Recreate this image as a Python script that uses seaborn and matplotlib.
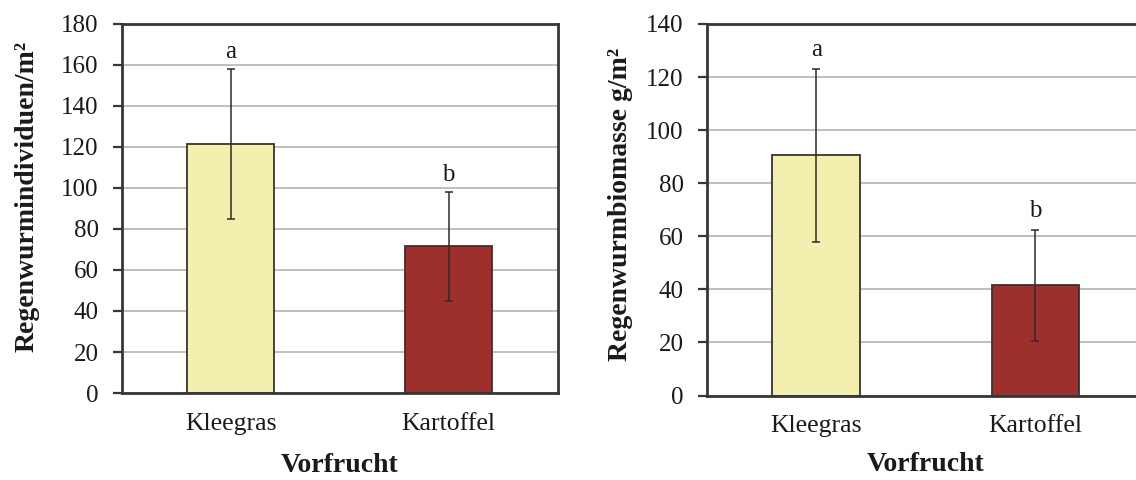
import matplotlib
matplotlib.use("Agg")
import matplotlib.pyplot as plt
import seaborn as sns
import pandas as pd

# Earthworm abundance and biomass by preceding crop
categories = ["Kleegras", "Kartoffel"]
individuals = [121.5, 71.5]
individuals_err = [36.5, 26.5]
biomass = [90.5, 41.5]
biomass_err = [32.5, 21.0]
letters = ["a", "b"]
bar_colors = ["#f3efaf", "#9d2f2c"]

sns.set_theme(style="white")
plt.rcParams["font.family"] = ["Liberation Serif", "DejaVu Serif"]

fig = plt.figure(figsize=(11.36, 4.8), dpi=100)
ax1 = fig.add_axes([0.107, 0.181, 0.384, 0.770])
ax2 = fig.add_axes([0.622, 0.176, 0.386, 0.774])

spine_col = "#3b3535"
grid_col = "#b8aaa3"
edge_col = "#3a3232"


def draw(ax, values, errs, ymax, step, ylabel, label_x, label_y, xlabelpad, show_right):
    df = pd.DataFrame({"Vorfrucht": categories, "value": values})
    sns.barplot(data=df, x="Vorfrucht", y="value", hue="Vorfrucht",
                palette=bar_colors, saturation=1, width=0.4, edgecolor=edge_col,
                linewidth=1.3, errorbar=None, legend=False, ax=ax, zorder=2)
    ax.errorbar(range(len(values)), values, yerr=errs, fmt="none",
                ecolor="#2e2a2a", elinewidth=1.1, capsize=3.2, capthick=1.1, zorder=3)
    for i, (v, e, t) in enumerate(zip(values, errs, letters)):
        ax.text(i, v + e + 3, t, ha="center", va="bottom", fontsize=18, color="#1a1a1a")
    ax.set_xlim(-0.5, 1.5)
    ax.set_ylim(0, ymax)
    ax.set_yticks(range(0, ymax + 1, step))
    ax.yaxis.grid(True, color=grid_col, linewidth=1.1, zorder=0)
    ax.set_axisbelow(True)
    for side in ["left", "bottom", "top"]:
        ax.spines[side].set_visible(True)
        ax.spines[side].set_color(spine_col)
        ax.spines[side].set_linewidth(2.0)
    ax.spines["right"].set_visible(show_right)
    ax.spines["right"].set_color(spine_col)
    ax.spines["right"].set_linewidth(2.0)
    ax.tick_params(axis="y", direction="out", length=6.5, width=1.6, color=spine_col,
                   labelsize=18, pad=10, left=True, labelcolor="#1a1a1a")
    ax.tick_params(axis="x", length=0, labelsize=18.5, pad=14, labelcolor="#1a1a1a")
    ax.set_ylabel(ylabel, fontsize=20, fontweight="bold", color="#1a1a1a")
    ax.yaxis.set_label_coords(label_x, label_y)
    ax.set_xlabel("Vorfrucht", fontsize=20, fontweight="bold", color="#1a1a1a",
                  labelpad=xlabelpad)


draw(ax1, individuals, individuals_err, 180, 20, "Regenwurmindividuen/m²",
     -0.188, 0.533, 13, True)
draw(ax2, biomass, biomass_err, 140, 20, "Regenwurmbiomasse g/m²",
     -0.167, 0.515, 11, False)

fig.savefig("out.png", dpi=100)
